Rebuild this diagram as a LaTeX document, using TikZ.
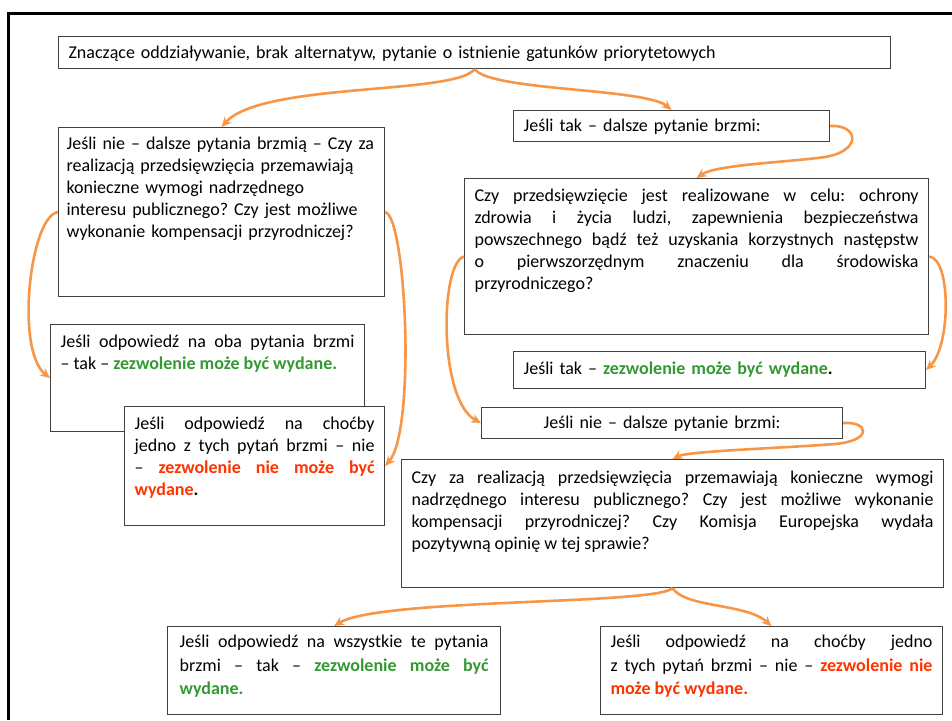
\documentclass[tikz,border=0pt]{standalone}
\usepackage{fontspec}
\setmainfont{Carlito}
\usetikzlibrary{arrows.meta}
\definecolor{arrowor}{HTML}{F79646}
\definecolor{okgreen}{HTML}{339933}
\definecolor{nored}{HTML}{FF3300}
\definecolor{boxgray}{HTML}{404040}
\newcommand{\tak}[1]{\textcolor{okgreen}{\bfseries #1}}
\newcommand{\nie}[1]{\textcolor{nored}{\bfseries #1}}
\newcommand{\boxfont}[1]{\fontsize{18}{#1}\selectfont\frenchspacing\tolerance=10000\hyphenpenalty=10000\relax}

\begin{document}
\begin{tikzpicture}[x=1pt,y=-1pt,
		box/.style={draw=boxgray,line width=1.1pt,fill=white,anchor=north west,
			inner xsep=10pt,inner ysep=0pt,align=justify,font={\boxfont{22}}},
		flow/.style={draw=arrowor,line width=2.6pt,-{Stealth[length=10pt,width=9pt]}}]
				\useasboundingbox (0,0) rectangle (952,720);
				\draw[line width=3pt] (8.5,720) -- (8.5,13.5) -- (952,13.5);
				\node[box,text width=812pt,text height=22pt,text depth=10pt,align=left] (prem) at (58,36)
					{Znaczące oddziaływanie, brak alternatyw, pytanie o istnienie gatunków priorytetowych};
				\node[box,text width=310pt,inner xsep=8pt,text height=22pt,text depth=147pt,align=left] (nieq) at (58,127)
					{Jeśli nie – dalsze pytania brzmią – Czy za\\ realizacją przedsięwzięcia przemawiają\\ konieczne wymogi nadrzędnego\\ interesu publicznego? Czy jest możliwe\\ wykonanie kompensacji przyrodniczej?};
				\node[box,text width=296pt,text height=21pt,text depth=10pt,align=left] (takq) at (513,110)
					{Jeśli tak – dalsze pytanie brzmi:};
				\node[box,text width=444pt,text height=23pt,text depth=133pt] (cel) at (464,178)
					{Czy przedsięwzięcie jest realizowane w celu: ochrony\linebreak zdrowia i życia ludzi, zapewnienia bezpieczeństwa\linebreak powszechnego bądź też uzyskania korzystnych następstw\linebreak o pierwszorzędnym znaczeniu dla środowiska\linebreak przyrodniczego?};
				\node[box,text width=294pt,text height=23pt,text depth=84pt] (obatak) at (50,324)
					{Jeśli odpowiedź na oba pytania brzmi\linebreak – tak – \tak{zezwolenie może być wydane.}};
				\node[box,text width=240pt,text height=23pt,text depth=96pt] (obanie) at (124,406)
					{Jeśli odpowiedź na choćby\linebreak jedno z tych pytań brzmi – nie\linebreak – \nie{zezwolenie nie może być}\linebreak \nie{wydane}\textbf{.}};
				\node[box,text width=392pt,text height=23pt,text depth=14pt,align=left] (celtak) at (513,351)
					{Jeśli tak – \tak{zezwolenie może być wydane}\textbf{.}};
				\node[box,text width=341pt,text height=21pt,text depth=10pt,align=center] (celnie) at (481,407)
					{Jeśli nie – dalsze pytanie brzmi:};
				\node[box,text width=522pt,text height=24pt,text depth=104pt] (komisja) at (401,459)
					{Czy za realizacją przedsięwzięcia przemawiają konieczne wymogi\linebreak nadrzędnego interesu publicznego? Czy jest możliwe wykonanie\linebreak kompensacji przyrodniczej? Czy Komisja Europejska wydała\linebreak pozytywną opinię w tej sprawie?};
				\node[box,text width=309pt,inner xsep=12pt,text height=21pt,text depth=67pt,font={\boxfont{23.5}}] (wszyst) at (167,626)
					{Jeśli odpowiedź na wszystkie te pytania\linebreak brzmi – tak – \tak{zezwolenie może być}\linebreak \tak{wydane.}};
				\node[box,text width=322pt,text height=21pt,text depth=67pt,font={\boxfont{23.5}}] (jedno) at (600,626)
					{Jeśli odpowiedź na choćby jedno\linebreak z tych pytań brzmi – nie – \nie{zezwolenie nie}\linebreak \nie{może być wydane.}};
				\draw[flow] (prem.south) .. controls +(-19,26) and +(40,-45) .. (nieq.north);
				\draw[flow] (prem.south) .. controls +(16,22) and +(-26,-22) .. (takq.north);
				\draw[flow] (takq.east) .. controls +(29,-2) and +(42,-5) .. ++(-9,31.5)
					.. controls +(-40,5) and +(19,-13) .. (cel.north);
				\draw[flow] (nieq.west) .. controls +(-28,4) and +(-35,-28) .. (obatak.west);
				\draw[flow] (nieq.east) .. controls +(21,4) and +(31,-36) .. (obanie.east);
				\draw[flow] (cel.west) .. controls +(-24,6) and +(-43,-23) .. (celnie.west);
				\draw[flow] (cel.east) .. controls +(22,2) and +(25,-25) .. (celtak.east);
				\draw[flow] (celnie.east) .. controls +(26,-2) and +(39,-3) .. ++(-9,21)
					.. controls +(-50,4) and +(16,-8) .. (komisja.north);
				\draw[flow] (komisja.south) .. controls +(-17,17) and +(46,-28) .. (wszyst.north);
				\draw[flow] (komisja.south) .. controls +(13,20) and +(-26,-23) .. (jedno.north);
			\end{tikzpicture}
\end{document}
